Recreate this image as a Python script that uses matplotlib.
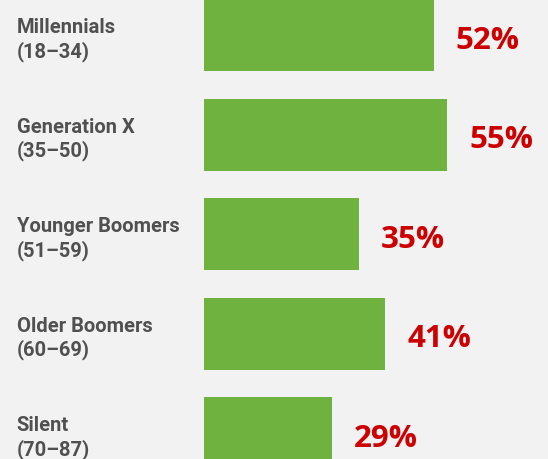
import matplotlib
matplotlib.use("Agg")
import matplotlib.pyplot as plt

groups = ["Millennials", "Generation X", "Younger Boomers", "Older Boomers", "Silent"]
ages = ["(18–34)", "(35–50)", "(51–59)", "(60–69)", "(70–87)"]
values = [52, 55, 35, 41, 29]

BG = "#f2f2f2"
GREEN = "#70b23f"
RED = "#cc0000"
GRAY = "#505050"

fig = plt.figure(figsize=(5.48, 4.60), dpi=100, facecolor=BG)
ax = fig.add_axes([0, 0, 1, 1], facecolor=BG)

ypos = list(range(len(values)))
ax.barh(ypos, values, height=0.724, color=GREEN, left=0)

ax.set_xlim(-46.15, 77.83)
ax.set_ylim(4.261, -0.362)
ax.axis("off")

for y, g, a, v in zip(ypos, groups, ages, values):
    ax.text(-42.4, y - 0.03, g, ha="left", va="baseline",
            fontsize=14.5, fontweight="bold", family="Roboto", color=GRAY)
    ax.text(-42.4, y + 0.215, a, ha="left", va="baseline",
            fontsize=14.5, fontweight="bold", family="Roboto", color=GRAY)
    ax.text(v + 5.0, y + 0.01, f"{v}%", ha="left", va="center_baseline",
            fontsize=22.5, fontweight="bold", family="Open Sans", color=RED)

fig.savefig("out.png", dpi=100, facecolor=BG)
